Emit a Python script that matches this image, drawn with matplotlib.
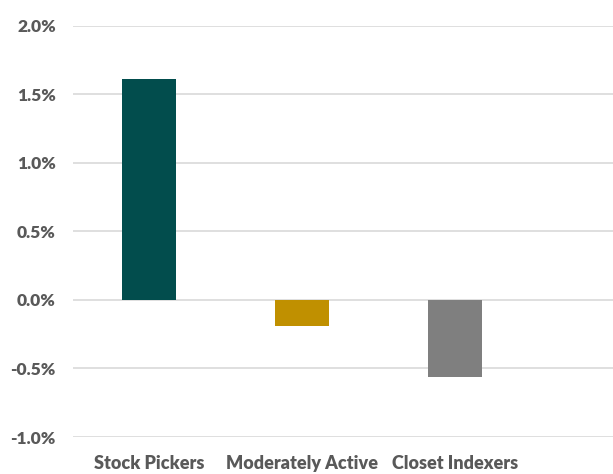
import matplotlib
matplotlib.use("Agg")
import matplotlib.pyplot as plt
from matplotlib.ticker import FuncFormatter

categories = ["Stock Pickers", "Moderately Active", "Closet Indexers"]
values = [1.61, -0.19, -0.56]
colors = ["#024D4D", "#C09000", "#7F7F7F"]
yticks = [-1.0, -0.5, 0.0, 0.5, 1.0, 1.5, 2.0]

plt.rcParams["font.family"] = ["Lato", "DejaVu Sans"]

fig = plt.figure(figsize=(6.13, 4.74), dpi=100)
# axes span -1.0% .. 2.0% vertically, running to the right edge
ax = fig.add_axes([72.5 / 613, (474 - 437) / 474, (613 - 72.5) / 613, (437 - 25.5) / 474])

x = list(range(len(categories)))
ax.bar(x, values, width=0.35, color=colors, zorder=3)

ax.set_ylim(-1.0, 2.0)
ax.set_xlim(-0.5, 3.03)
ax.set_yticks(yticks)
ax.yaxis.set_major_formatter(FuncFormatter(lambda v, p: f"{v:.1f}%"))
ax.grid(axis="y", color="#D9D9D9", linewidth=1.2, zorder=0)
ax.set_xticks(x)
ax.set_xticklabels(categories)

for s in ax.spines.values():
    s.set_visible(False)
ax.tick_params(axis="both", length=0, colors="#595959")
ax.tick_params(axis="y", pad=12, labelsize=12.5)
ax.tick_params(axis="x", pad=13, labelsize=13)
for lab in ax.get_xticklabels() + ax.get_yticklabels():
    lab.set_fontweight("heavy")

fig.savefig("out.png", dpi=100)
